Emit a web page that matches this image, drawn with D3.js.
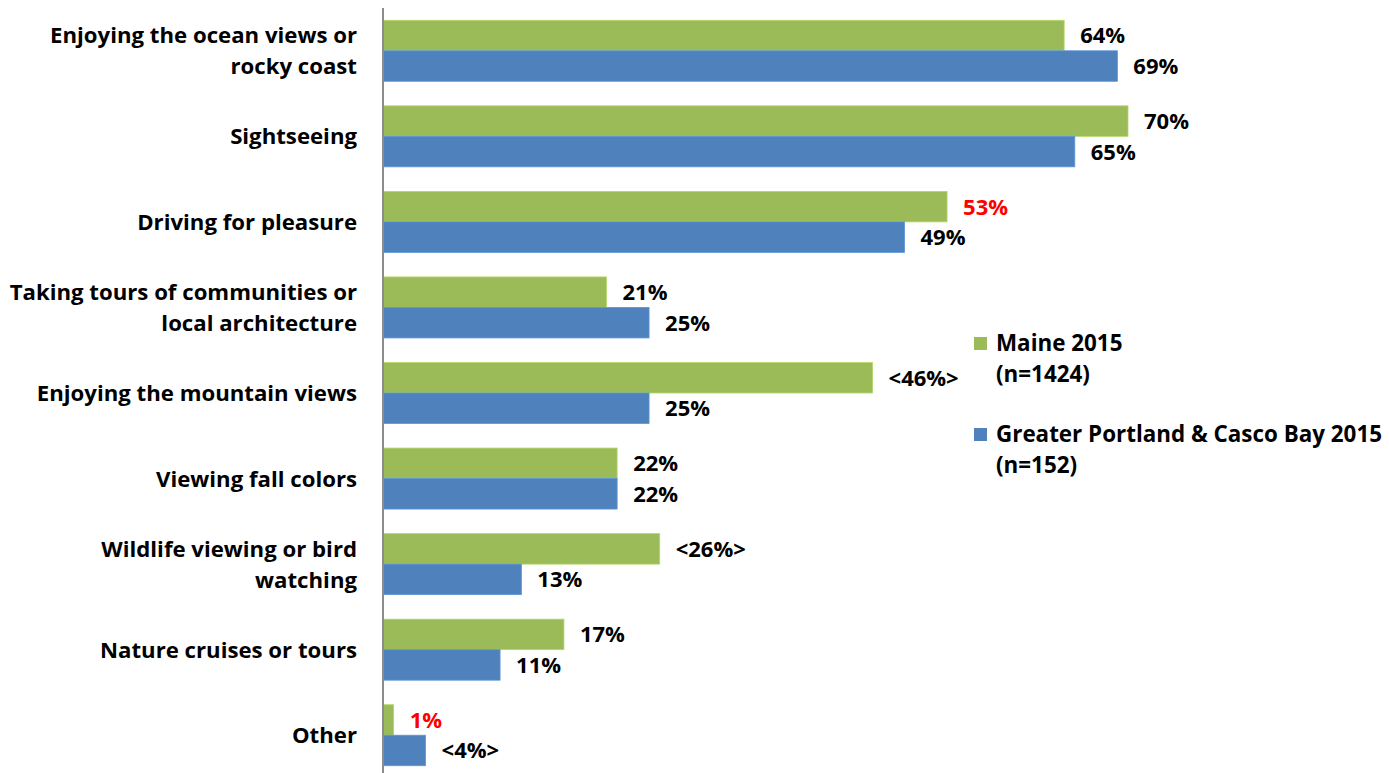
<!DOCTYPE html>
<html>
<head>
<meta charset="utf-8">
<script src="https://cdn.jsdelivr.net/npm/d3@7"></script>
<style>
  html, body { margin: 0; padding: 0; background: #fff; }
  svg { display: block; font-family: "Open Sans", "Liberation Sans", sans-serif; font-weight: bold; }
</style>
</head>
<body>
<svg id="chart" width="1389" height="773"></svg>
<script>
// Activities, one row per category
const categories = [
  ["Enjoying the ocean views or", "rocky coast"],
  ["Sightseeing"],
  ["Driving for pleasure"],
  ["Taking tours of communities or", "local architecture"],
  ["Enjoying the mountain views"],
  ["Viewing fall colors"],
  ["Wildlife viewing or bird", "watching"],
  ["Nature cruises or tours"],
  ["Other"]
];
const maine2015 = [64, 70, 53, 21, 46, 22, 26, 17, 1];
const portland2015 = [69, 65, 49, 25, 25, 22, 13, 11, 4];
// Displayed value labels (some flagged with brackets or in red)
const maineLabels = ["64%", "70%", "53%", "21%", "<46%>", "22%", "<26%>", "17%", "1%"];
const portlandLabels = ["69%", "65%", "49%", "25%", "25%", "22%", "13%", "11%", "<4%>"];
const maineLabelRed = [false, false, true, false, false, false, false, false, true];
const portlandLabelRed = [false, false, false, false, false, false, false, false, false];
const seriesNames = [["Maine 2015", "(n=1424)"], ["Greater Portland & Casco Bay 2015", "(n=152)"]];
const seriesColors = ["#9bbb59", "#4f81bd"];

const svg = d3.select("#chart");
const x0 = 383;

const x = d3.scaleLinear().domain([0, 70]).range([x0, 1128]);
const y = d3.scaleBand()
  .domain(d3.range(categories.length))
  .range([8, 778])
  .paddingInner(0.287)
  .paddingOuter(0.1435);
const sub = d3.scaleBand().domain([0, 1]).range([0, y.bandwidth()]);

const series = [
  { values: maine2015, labels: maineLabels, red: maineLabelRed },
  { values: portland2015, labels: portlandLabels, red: portlandLabelRed }
];

// Bars
series.forEach((s, si) => {
  const g = svg.append("g");
  g.selectAll("rect")
    .data(s.values)
    .join("rect")
    .attr("x", x(0))
    .attr("y", (d, i) => y(i) + sub(si))
    .attr("width", d => x(d) - x(0))
    .attr("height", sub.bandwidth())
    .attr("fill", seriesColors[si])
    .attr("stroke", d3.color(seriesColors[si]).brighter(0.4))
    .attr("stroke-width", 0.8);

  g.selectAll("text")
    .data(s.values)
    .join("text")
    .attr("x", d => x(d) + 16)
    .attr("y", (d, i) => y(i) + sub(si) + sub.bandwidth() / 2)
    .attr("dy", "0.36em")
    .attr("font-size", 22)
    .attr("fill", (d, i) => s.red[i] ? "#ff0000" : "#000")
    .text((d, i) => s.labels[i]);
});

// Category axis line
svg.append("line")
  .attr("x1", x0).attr("x2", x0)
  .attr("y1", 8).attr("y2", 773)
  .attr("stroke", "#8c8c8c")
  .attr("stroke-width", 2);

// Category labels
const lineGap = 31;
categories.forEach((lines, i) => {
  const cy = y(i) + y.bandwidth() / 2;
  const t = svg.append("text")
    .attr("text-anchor", "end")
    .attr("font-size", 22.2)
    .attr("fill", "#000");
  lines.forEach((ln, j) => {
    t.append("tspan")
      .attr("x", 357)
      .attr("y", cy + (j - (lines.length - 1) / 2) * lineGap)
      .attr("dy", "0.36em")
      .text(ln);
  });
});

// Legend
const legendY = [343, 434];
seriesNames.forEach((lines, si) => {
  svg.append("rect")
    .attr("x", 974).attr("y", legendY[si] - 6)
    .attr("width", 13).attr("height", 13)
    .attr("fill", seriesColors[si]);
  const t = svg.append("text").attr("font-size", 22.4).attr("fill", "#000");
  lines.forEach((ln, j) => {
    t.append("tspan")
      .attr("x", 996)
      .attr("y", legendY[si] + j * 31)
      .attr("dy", "0.36em")
      .text(ln);
  });
});
</script>
</body>
</html>
